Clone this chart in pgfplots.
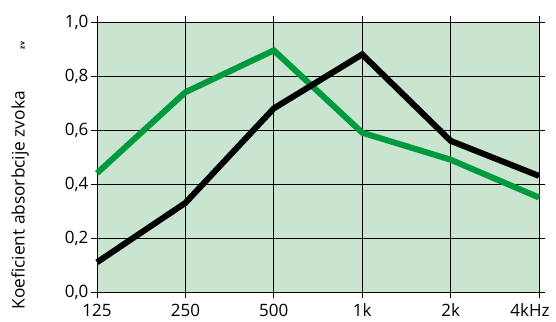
\documentclass[border=0pt]{standalone}
\usepackage{pgfplots}
\pgfplotsset{compat=1.18}
\usepackage{fontspec}
\setmainfont{Open Sans}
\definecolor{bg}{HTML}{C9E5CF}
\definecolor{gline}{HTML}{009A3E}
\begin{document}
\begin{tikzpicture}[x=1pt,y=1pt]
\path[use as bounding box] (0,0) rectangle (556,321);
\begin{axis}[
  at={(97pt,29pt)}, anchor=south west,
  scale only axis,
  width=442pt, height=270pt,
  xmin=0, xmax=5, ymin=0, ymax=1,
  xtick={0,1,2,3,4,5},
  xticklabels={125,250,500,1k,2k,\hspace*{-18pt}4kHz},
  ytick={0,0.2,0.4,0.6,0.8,1.0},
  yticklabels={{0,0},{0,2},{0,4},{0,6},{0,8},{1,0}},
  grid=major,
  major grid style={black, line width=0.8pt},
  axis line style={black, line width=0.8pt},
  tick style={black, line width=0.8pt},
  tick align=outside,
  major tick length=6pt,
  axis background/.style={fill=bg},
  ticklabel style={font=\fontsize{17}{19}\selectfont},
  xticklabel style={yshift=-2.5pt},
  yticklabel style={xshift=1pt},
  ylabel={Koeficient absorbcije zvoka\hspace{42pt}{\fontsize{7}{8}\selectfont\bfseries zv}},
  ylabel style={font=\fontsize{17.3}{19}\selectfont, at={(axis description cs:-0.174,-0.078)}, anchor=west},
  clip=false,
]
\addplot[gline, line width=6pt, line join=miter] coordinates {(0,0.44) (1,0.74) (2,0.895) (3,0.59) (4,0.49) (5,0.35)};
\addplot[black, line width=6pt, line join=miter] coordinates {(0,0.11) (1,0.33) (2,0.68) (3,0.88) (4,0.56) (5,0.43)};
\end{axis}
\end{tikzpicture}
\end{document}
